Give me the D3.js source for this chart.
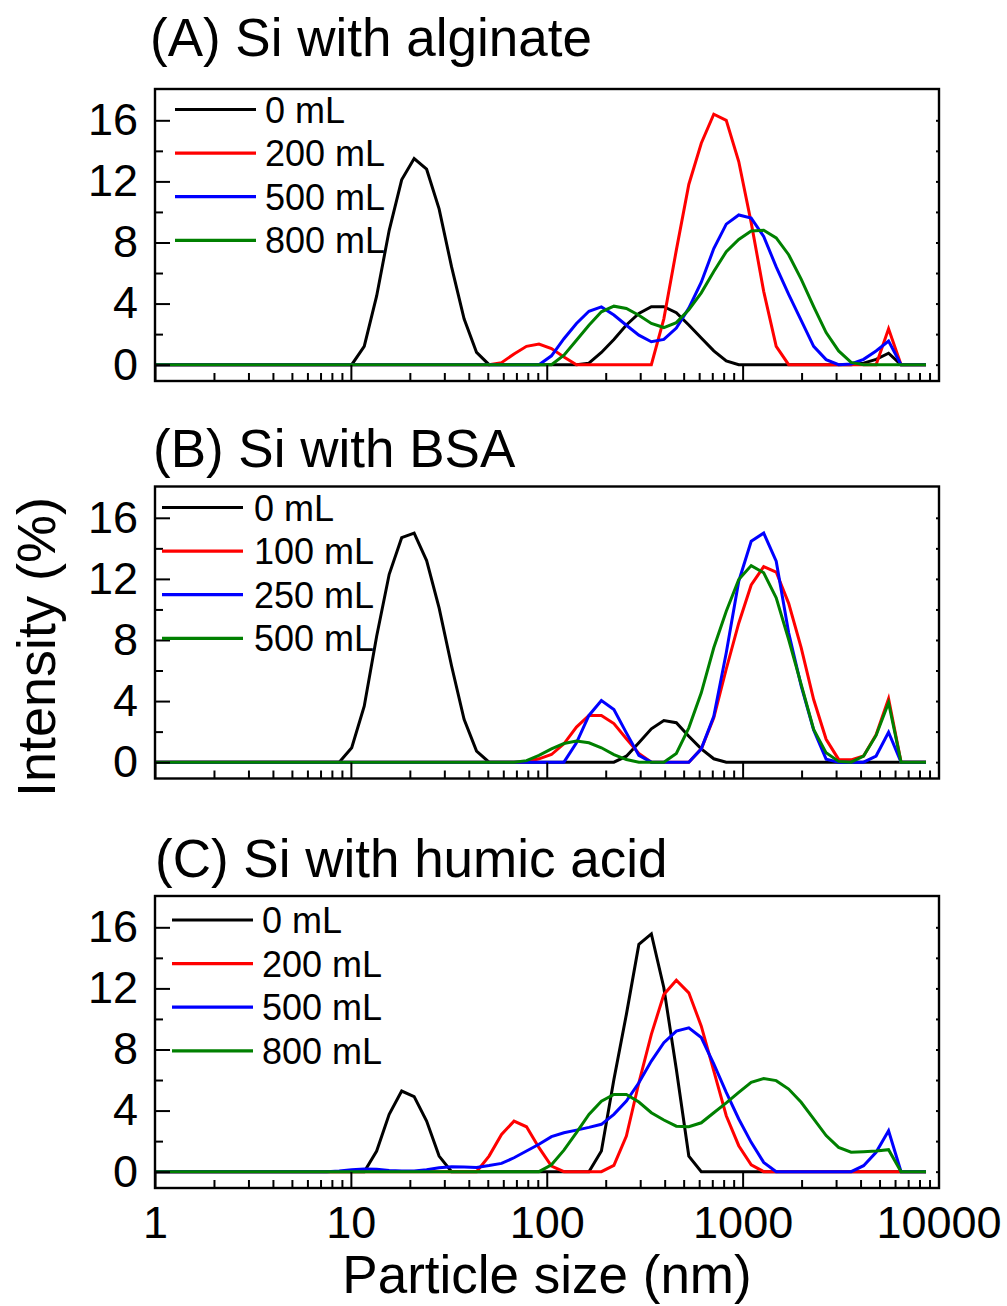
<!DOCTYPE html>
<html>
<head>
<meta charset="utf-8">
<script src="https://cdn.jsdelivr.net/npm/d3@7"></script>
<style>
  body { margin: 0; background: #fff; }
  svg { display: block; font-family: "Liberation Sans", Arial, sans-serif; }
</style>
</head>
<body>
<div id="chart"></div>
<script>
// Size classes (nm) of the DLS instrument
const sizes = [0.9649, 1.117, 1.294, 1.499, 1.736, 2.01, 2.328, 2.696, 3.122, 3.615,
  4.187, 4.849, 5.615, 6.503, 7.531, 8.721, 10.1, 11.7, 13.54, 15.69,
  18.17, 21.04, 24.36, 28.21, 32.67, 37.84, 43.82, 50.75, 58.77, 68.06,
  78.82, 91.28, 105.7, 122.4, 141.8, 164.2, 190.1, 220.2, 255, 295.3,
  342, 396.1, 458.7, 531.2, 615.1, 712.4, 825, 955.4, 1106, 1281,
  1484, 1718, 1990, 2305, 2669, 3091, 3580, 4145, 4801, 5560,
  6439, 7456, 8635];

// (A) Si with alginate, intensity (%)
const alginate0 = [0,0,0,0,0,0,0,0,0,0, 0,0,0,0,0,0,0,1.2,4.5,8.8,
  12.1,13.5,12.8,10.2,6.4,3.0,0.8,0,0,0, 0,0,0,0,0,0.1,0.8,1.65,2.6,3.35,
  3.8,3.8,3.4,2.6,1.75,0.9,0.25,0,0,0, 0,0,0,0,0,0,0,0.1,0.35,0.75, 0,0,0];
const alginate200 = [0,0,0,0,0,0,0,0,0,0, 0,0,0,0,0,0,0,0,0,0,
  0,0,0,0,0,0,0,0,0.13,0.7, 1.2,1.35,1.05,0.5,0,0,0,0,0,0,
  0,3.0,7.5,11.8,14.5,16.4,16.0,13.3,9.3,4.8, 1.2,0,0,0,0,0,0,0,0,2.35, 0,0,0];
const alginate500 = [0,0,0,0,0,0,0,0,0,0, 0,0,0,0,0,0,0,0,0,0,
  0,0,0,0,0,0,0,0,0,0, 0,0,0.58,1.7,2.7,3.5,3.78,3.25,2.58,1.93,
  1.5,1.65,2.4,3.7,5.4,7.6,9.2,9.8,9.6,8.4, 6.4,4.6,2.9,1.2,0.33,0,0.05,0.35,0.9,1.55, 0,0,0];
const alginate800 = [0,0,0,0,0,0,0,0,0,0, 0,0,0,0,0,0,0,0,0,0,
  0,0,0,0,0,0,0,0,0,0, 0,0,0,0.62,1.6,2.58,3.46,3.83,3.68,3.24,
  2.7,2.43,2.75,3.6,4.7,6.1,7.4,8.2,8.75,8.8, 8.3,7.2,5.6,3.8,2.1,0.9,0.15,0,0,0, 0,0,0];

// (B) Si with BSA
const bsa0 = [0,0,0,0,0,0,0,0,0,0, 0,0,0,0,0,0,0.94,3.66,8.25,12.3,
  14.7,15.0,13.2,10.1,6.3,2.8,0.72,0,0,0, 0,0,0,0,0,0,0,0,0.39,1.27,
  2.18,2.73,2.58,1.7,0.87,0.22,0,0,0,0, 0,0,0,0,0,0,0,0,0,0, 0,0,0];
const bsa100 = [0,0,0,0,0,0,0,0,0,0, 0,0,0,0,0,0,0,0,0,0,
  0,0,0,0,0,0,0,0,0,0, 0.03,0.22,0.5,1.2,2.3,3.06,3.06,2.53,1.53,0.57,
  0,0,0,0,0.87,2.9,6.1,9.1,11.6,12.8, 12.45,10.4,7.5,4.1,1.5,0.18,0.15,0.4,1.8,4.15, 0,0,0];
const bsa250 = [0,0,0,0,0,0,0,0,0,0, 0,0,0,0,0,0,0,0,0,0,
  0,0,0,0,0,0,0,0,0,0, 0,0,0,0,1.27,3.06,4.04,3.45,1.92,0.44,
  0,0,0,0,0.87,3.0,7.16,11.85,14.46,15.0, 13.16,8.47,5.0,2.1,0.2,0,0,0,0.4,1.96, 0,0,0];
const bsa500 = [0,0,0,0,0,0,0,0,0,0, 0,0,0,0,0,0,0,0,0,0,
  0,0,0,0,0,0,0,0,0,0, 0.1,0.44,0.87,1.22,1.38,1.27,0.94,0.5,0.17,0,
  0,0,0.57,2.25,4.54,7.49,9.88,11.96,12.87,12.4, 10.76,8.03,5.09,2.14,0.61,0.05,0,0.4,1.75,3.89, 0,0,0];

// (C) Si with humic acid
const humic0 = [0,0,0,0,0,0,0,0,0,0, 0,0,0,0,0,0,0,0,1.35,3.75,
  5.28,4.91,3.31,1.02,0,0,0,0,0,0, 0,0,0,0,0,0,1.35,6.04,10.3,14.88,
  15.57,12.04,6.7,1.02,0,0,0,0,0,0, 0,0,0,0,0,0,0,0,0,0, 0,0,0];
const humic200 = [0,0,0,0,0,0,0,0,0,0, 0,0,0,0,0,0,0,0,0,0,
  0,0,0,0,0,0,0,1.02,2.44,3.31, 2.94,1.57,0.37,0,0,0,0,0.41,2.33,5.82,
  8.99,11.6,12.54,11.71,9.53,6.6,3.66,1.7,0.44,0, 0,0,0,0,0,0,0,0,0,0, 0,0,0];
const humic500 = [0,0,0,0,0,0,0,0,0,0, 0,0,0,0,0,0.05,0.12,0.18,0.15,0.08,
  0.05,0.05,0.12,0.25,0.32,0.3,0.28,0.4,0.54,0.91, 1.35,1.79,2.29,2.55,2.72,2.9,3.1,3.75,4.62,5.82,
  7.24,8.44,9.2,9.42,8.78,7.05,5.19,3.45,1.92,0.61, 0,0,0,0,0,0,0,0.39,1.27,2.68, 0,0,0];
const humic800 = [0,0,0,0,0,0,0,0,0,0, 0,0,0,0,0,0,0,0,0,0,
  0,0,0,0,0,0,0,0,0,0, 0,0,0.45,1.41,2.55,3.75,4.62,5.06,5.06,4.56,
  3.86,3.38,2.98,2.94,3.2,3.86,4.5,5.19,5.85,6.1, 5.96,5.41,4.54,3.45,2.36,1.59,1.27,1.31,1.35,1.44, 0,0,0];

const panelTitles = ["(A) Si with alginate", "(B) Si with BSA", "(C) Si with humic acid"];
const legendA = ["0 mL", "200 mL", "500 mL", "800 mL"];
const legendB = ["0 mL", "100 mL", "250 mL", "500 mL"];
const legendC = ["0 mL", "200 mL", "500 mL", "800 mL"];
const seriesColors = ["#000000", "#ff0000", "#0000ff", "#008000"];
const yTickLabels = [0, 4, 8, 12, 16];
const yMinorTicks = [2, 6, 10, 14];
const xTickLabels = [1, 10, 100, 1000, 10000];

const panels = [
  { title: panelTitles[0], series: [alginate0, alginate200, alginate500, alginate800], legend: legendA,
    top: 89, titleX: 150, titleY: 56, legX: 175, legText: 265, legY: 109.5 },
  { title: panelTitles[1], series: [bsa0, bsa100, bsa250, bsa500], legend: legendB,
    top: 486.5, titleX: 153, titleY: 467, legX: 162, legText: 254, legY: 507.5 },
  { title: panelTitles[2], series: [humic0, humic200, humic500, humic800], legend: legendC,
    top: 896, titleX: 155, titleY: 877, legX: 172, legText: 262, legY: 920 }
];

const W = 1007, H = 1306;
const left = 155, right = 939, plotH = 292;

const svg = d3.select("#chart").append("svg")
  .attr("width", W).attr("height", H);
svg.append("rect").attr("width", W).attr("height", H).attr("fill", "#fff");

const x = d3.scaleLog().domain([1, 10000]).range([left, 938.5]);

const xMinor = [];
[1, 10, 100, 1000].forEach(d => { for (let k = 2; k <= 9; k++) xMinor.push(d * k); });

panels.forEach((p, pi) => {
  const bottom = p.top + plotH;
  const y = d3.scaleLinear().domain([-1.07, 18.05]).range([bottom, p.top]);
  const g = svg.append("g");

  // clip to frame
  const clipId = "clip" + pi;
  svg.append("clipPath").attr("id", clipId)
    .append("rect").attr("x", left).attr("y", p.top)
    .attr("width", right - left).attr("height", plotH);

  const line = d3.line()
    .x((d, i) => x(sizes[i]))
    .y(d => y(d));

  p.series.forEach((s, si) => {
    g.append("path")
      .datum(s)
      .attr("clip-path", `url(#${clipId})`)
      .attr("d", line)
      .attr("fill", "none")
      .attr("stroke", seriesColors[si])
      .attr("stroke-width", 3)
      .attr("stroke-linejoin", "miter");
  });

  // left axis
  g.append("g").attr("transform", `translate(${left},0)`)
    .call(d3.axisLeft(y).tickValues(yTickLabels).tickSize(-15).tickPadding(17));
  g.append("g").attr("transform", `translate(${left},0)`)
    .call(d3.axisLeft(y).tickValues(yMinorTicks).tickSize(-8).tickFormat(""));
  // right axis (short inward ticks)
  g.append("g").attr("transform", `translate(${right},0)`)
    .call(d3.axisRight(y).tickValues(yTickLabels.concat(yMinorTicks)).tickSize(-3).tickFormat(""));

  // bottom axis
  g.append("g").attr("transform", `translate(0,${bottom})`)
    .call(d3.axisBottom(x).tickValues(xTickLabels).tickSize(-16).tickPadding(18)
      .tickFormat(pi === 2 ? d3.format("d") : ""));
  g.append("g").attr("transform", `translate(0,${bottom})`)
    .call(d3.axisBottom(x).tickValues(xMinor).tickSize(-8).tickFormat(""));

  g.selectAll(".domain").remove();
  g.selectAll(".tick line").attr("stroke", "#000").attr("stroke-width", 2);
  g.selectAll(".tick text")
    .attr("font-size", 45)
    .attr("font-family", "Liberation Sans, Arial, sans-serif")
    .attr("fill", "#000");

  // frame
  g.append("rect")
    .attr("x", left).attr("y", p.top)
    .attr("width", right - left).attr("height", plotH)
    .attr("fill", "none").attr("stroke", "#000").attr("stroke-width", 2.4);

  // legend
  p.legend.forEach((lab, li) => {
    const ly = p.legY + li * 43.6;
    g.append("line")
      .attr("x1", p.legX).attr("x2", p.legX + 81)
      .attr("y1", ly).attr("y2", ly)
      .attr("stroke", seriesColors[li]).attr("stroke-width", 3.2);
    g.append("text")
      .attr("x", p.legText).attr("y", ly + 13)
      .attr("font-size", 36)
      .text(lab);
  });

  // panel title
  svg.append("text")
    .attr("x", p.titleX).attr("y", p.titleY)
    .attr("font-size", 53)
    .text(p.title);
});

// axis titles
svg.append("text")
  .attr("transform", "translate(55,647) rotate(-90)")
  .attr("text-anchor", "middle")
  .attr("font-size", 54)
  .text("Intensity (%)");

svg.append("text")
  .attr("x", 547).attr("y", 1293)
  .attr("text-anchor", "middle")
  .attr("font-size", 53)
  .text("Particle size (nm)");
</script>
</body>
</html>
